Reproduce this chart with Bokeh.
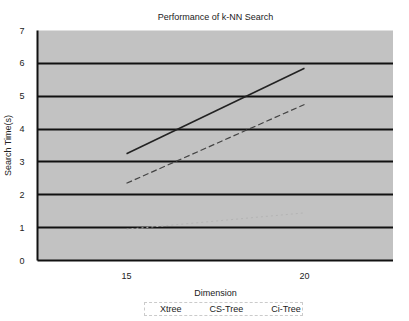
from bokeh.plotting import figure
from bokeh.layouts import column
from bokeh.models import FactorRange, Range1d, FixedTicker, Legend, LegendItem
from bokeh.embed import file_html
from bokeh.resources import INLINE

dims = ["15", "20"]
xtree = [3.25, 5.85]
cs_tree = [2.35, 4.75]
ci_tree = [0.95, 1.45]
series_names = ["Xtree", "CS-Tree", "Ci-Tree"]
y_ticks = [0, 1, 2, 3, 4, 5, 6, 7]

FONT = "Liberation Sans"
styles = [dict(line_color="#222222", line_width=1.5),
          dict(line_color="#444444", line_width=1.2, line_dash="6 3"),
          dict(line_color="#b4b4b4", line_width=1, line_dash="2 3")]

p = figure(x_range=FactorRange(*dims, range_padding=0), y_range=Range1d(0, 7),
           width=393, height=300, output_backend="svg", toolbar_location=None,
           min_border_left=28, min_border_right=0, min_border_top=27, min_border_bottom=38,
           title="Performance of k-NN Search")
p.title.align = "center"
p.title.text_font = FONT
p.title.text_font_size = "9px"
p.title.text_font_style = "normal"
p.title.text_color = "#222222"
p.title.standoff = 18

p.background_fill_color = "#c2c2c2"
p.border_fill_color = "white"
p.outline_line_color = None

p.yaxis.ticker = FixedTicker(ticks=y_ticks)
p.yaxis.axis_label = "Search Time(s)"
p.xaxis.axis_label = "Dimension"
for ax in (p.xaxis, p.yaxis):
    ax.axis_label_text_font = FONT
    ax.axis_label_text_font_size = "9px"
    ax.axis_label_text_font_style = "normal"
    ax.axis_label_text_color = "#222222"
    ax.major_label_text_font = FONT
    ax.major_label_text_font_size = "9px"
    ax.major_label_text_color = "#222222"
    ax.major_tick_line_color = None
    ax.minor_tick_line_color = None
    ax.axis_line_color = "#111111"
    ax.axis_line_width = 2
p.yaxis.major_label_standoff = 7
p.yaxis.axis_label_standoff = 3
p.xaxis.major_label_standoff = 6
p.xaxis.axis_label_standoff = 6

p.xgrid.grid_line_color = None
p.ygrid.ticker = FixedTicker(ticks=[1, 2, 3, 4, 5, 6])
p.ygrid.grid_line_color = "#111111"
p.ygrid.grid_line_width = 2

for vals, st in zip([xtree, cs_tree, ci_tree], styles):
    p.line(dims, vals, **st)

# legend strip below the chart
lg = figure(width=393, height=15, output_backend="svg", toolbar_location=None,
            min_border=0, x_range=Range1d(0, 1), y_range=Range1d(0, 1))
lg.margin = (2, 0, 0, 0)
lg.axis.visible = False
lg.grid.visible = False
lg.outline_line_color = None
lg.background_fill_color = "white"
dummies = [lg.line([], [], **st) for st in styles]
legend = Legend(items=[LegendItem(label=n, renderers=[r]) for n, r in zip(series_names, dummies)],
                orientation="horizontal", location=(107, 1),
                label_text_font=FONT, label_text_font_size="9px", label_text_color="#222222",
                glyph_width=10, glyph_height=8, label_standoff=4, spacing=14,
                label_height=9, padding=1, margin=0,
                border_line_color="#999999", border_line_dash="1 2",
                background_fill_alpha=0)
lg.add_layout(legend, "center")

layout = column(p, lg, spacing=0)
open("out.html", "w").write(file_html(layout, INLINE))
